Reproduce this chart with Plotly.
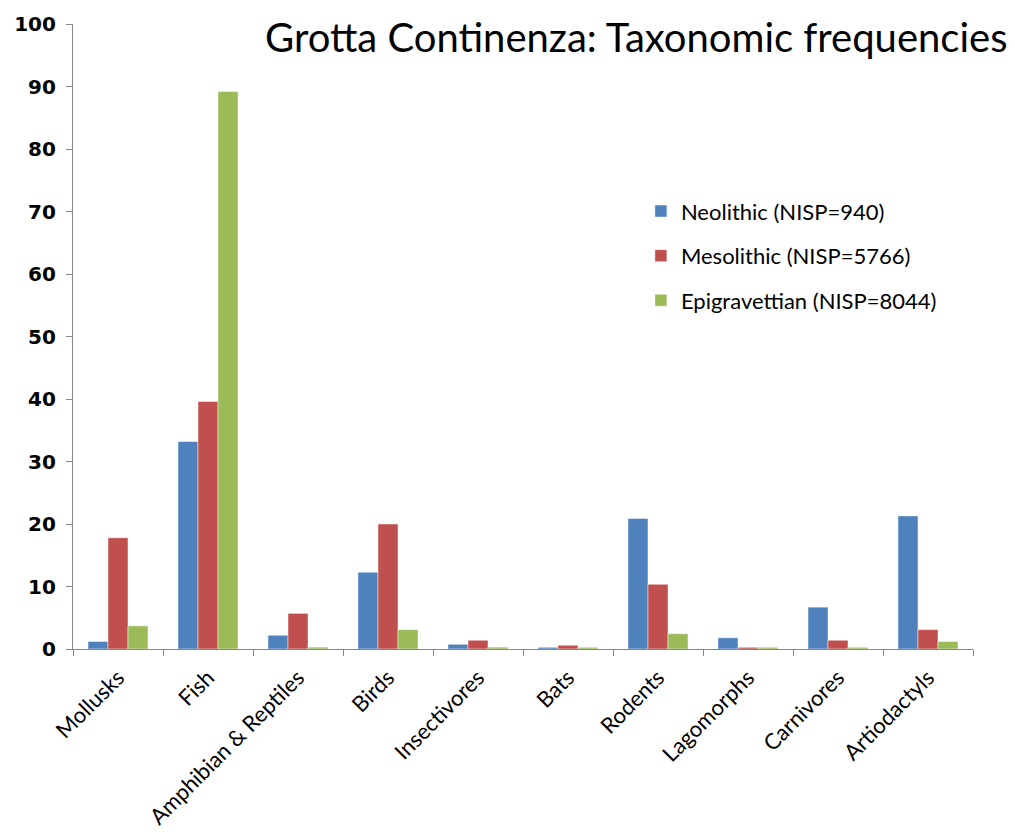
import plotly.graph_objects as go

# Taxonomic frequencies (%) at Grotta Continenza by cultural phase
categories = ["Mollusks", "Fish", "Amphibian & Reptiles", "Birds", "Insectivores",
              "Bats", "Rodents", "Lagomorphs", "Carnivores", "Artiodactyls"]
neolithic = [1.2, 33.2, 2.2, 12.3, 0.75, 0.27, 20.9, 1.8, 6.7, 21.3]
mesolithic = [17.8, 39.6, 5.7, 20.0, 1.4, 0.6, 10.35, 0.27, 1.4, 3.1]
epigravettian = [3.7, 89.2, 0.3, 3.1, 0.3, 0.27, 2.45, 0.27, 0.27, 1.2]

series_names = ["Neolithic (NISP=940)", "Mesolithic (NISP=5766)", "Epigravettian (NISP=8044)"]
series_colors = ["#4F81BD", "#C0504D", "#9BBB59"]
y_ticks = [0, 10, 20, 30, 40, 50, 60, 70, 80, 90, 100]

fig = go.Figure()
for name, vals, col in zip(series_names, [neolithic, mesolithic, epigravettian], series_colors):
    fig.add_trace(go.Bar(
        x=categories, y=vals, name=name, legendgroup=name,
        marker=dict(color=col, line=dict(color="rgba(255,255,255,0.6)", width=0.8)),
    ))

axis_col = "#868686"
fig.update_layout(
    width=1015, height=837,
    margin=dict(l=73, r=42, t=24, b=188),
    paper_bgcolor="white", plot_bgcolor="white",
    barmode="group", bargap=0.333, bargroupgap=0,
    font=dict(family="Lato, Open Sans, sans-serif", color="black"),
    showlegend=True,
    legend=dict(
        x=0.631, y=0.734, xanchor="left", yanchor="top",
        font=dict(size=22, family="Lato, sans-serif"),
        traceorder="grouped", tracegroupgap=13,
        itemwidth=30, bgcolor="rgba(0,0,0,0)",
    ),
    annotations=[dict(
        text="Grotta Continenza: Taxonomic frequencies",
        xref="paper", yref="paper", x=1.04, y=0.979, xanchor="right", yanchor="middle",
        showarrow=False, font=dict(size=40, family="Lato, sans-serif", color="black"),
    )],
)
fig.update_xaxes(
    showline=True, linecolor=axis_col, linewidth=1.2,
    ticks="outside", tickson="boundaries", ticklen=6, tickcolor=axis_col,
    tickangle=-45, tickfont=dict(size=22, family="Lato, sans-serif"),
    showgrid=False, ticklabelstandoff=6, automargin=False,
)
fig.update_yaxes(
    range=[0, 100], tickvals=y_ticks,
    showline=True, linecolor=axis_col, linewidth=1.2,
    ticks="outside", ticklen=6, tickcolor=axis_col,
    tickfont=dict(size=20, family="DejaVu Sans", weight="bold"),
    showgrid=False, zeroline=False, ticklabelstandoff=6, automargin=False,
)

fig.write_html("out.html")
